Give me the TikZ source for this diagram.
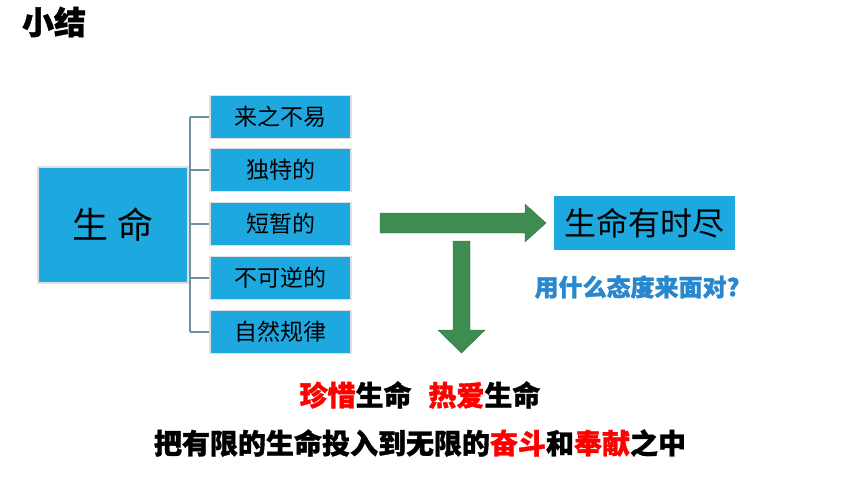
\documentclass[tikz,border=0pt]{standalone}
\usepackage{fontspec}
\setmainfont{Noto Sans CJK SC}
\newfontfamily\heavy{Noto Sans CJK SC}[BoldFeatures={FakeBold=1.2}]
\definecolor{boxblue}{RGB}{30,168,224}
\definecolor{arrowgreen}{RGB}{62,140,82}
\definecolor{linegray}{RGB}{110,145,160}
\definecolor{askblue}{RGB}{40,135,205}
\newcommand{\hl}[1]{\textcolor{red}{#1}}
\begin{document}
\begin{tikzpicture}[
			x = 1pt, y = -1pt,
			box/.style = {fill=boxblue,draw=black!12,line width=1.2pt,inner sep=0pt},
			item/.style = {box,minimum width=141pt,minimum height=43pt,font=\fontsize{23}{23}\selectfont},
			bigarrow/.style = {fill=arrowgreen,draw=arrowgreen!85!black,line width=0.4pt},
			slogan/.style = {font=\fontsize{28}{28}\selectfont\heavy\bfseries}
			]

			\useasboundingbox (0,0) rectangle (860,484);

			\node[font=\fontsize{32}{32}\selectfont\heavy\bfseries] (title) at (54,22) {小结};

			\node[box,minimum width=150pt,minimum height=116pt,font=\fontsize{36}{36}\selectfont] (life) at (113,225) {生\hspace{10pt}命};

			\node[item] (i1) at (280.5,117) {来之不易};
			\node[item] (i2) at (280.5,170) {独特的};
			\node[item] (i3) at (280.5,224) {短暂的};
			\node[item] (i4) at (280.5,278) {不可逆的};
			\node[item] (i5) at (280.5,332) {自然规律};

			\coordinate (trunk) at (190,0);
			\draw[linegray,line width=1.2pt] (i1.west -| trunk) -- (i5.west -| trunk);
			\foreach \i in {1,...,5}
				\draw[linegray,line width=1.2pt] (i\i.west -| trunk) -- (i\i.west);

			% block arrows
			\fill[bigarrow] (380,213) -- (525,213) -- (525,204) -- (546,223) -- (525,242) -- (525,233) -- (380,233) -- cycle;
			\fill[bigarrow] (453,241) -- (470,241) -- (470,330) -- (485,330) -- (461.5,353) -- (438,330) -- (453,330) -- cycle;

			\node[box,draw=none,minimum width=181pt,minimum height=54pt,font=\fontsize{32}{32}\selectfont] (finite) at (644.5,223) {生命有时尽};
			\node[askblue,font=\fontsize{24}{24}\selectfont\heavy\bfseries] (ask) at (637,287) {用什么态度来面对?};

			\node[slogan] (cherish) at (420,395) {\hl{珍惜}生命\hspace{0.6em}\hl{热爱}生命};
			\node[slogan] (devote) at (420,443) {把有限的生命投入到无限的\hl{奋斗}和\hl{奉献}之中};

		\end{tikzpicture}
\end{document}
